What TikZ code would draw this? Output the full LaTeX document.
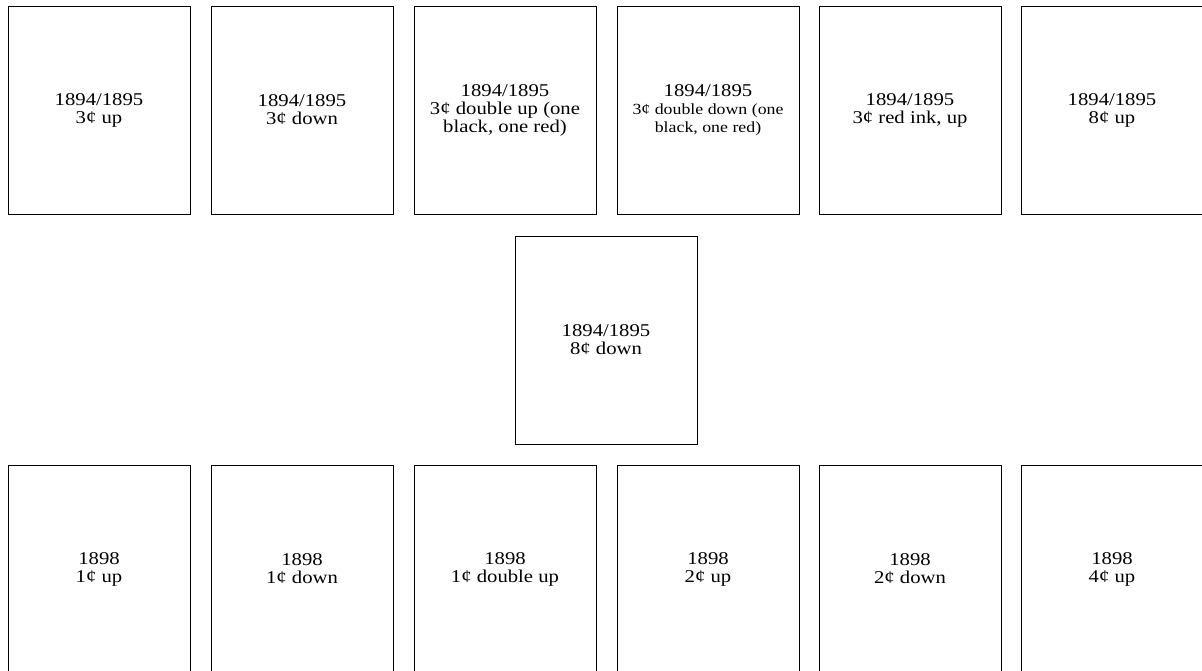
\documentclass[tikz,border=0pt]{standalone}
\usepackage{fontspec}
\setmainfont{Liberation Serif}[FakeStretch=1.15]
\usepackage{tikz}
\usetikzlibrary{positioning}

\tikzset{
  stampbox/.style={draw=black, line width=0.8pt, rectangle, inner sep=0pt,
    minimum width=182pt, minimum height=208pt, align=center,
    font=\fontsize{18}{18}\selectfont}
}
\newcommand{\smalltxt}[1]{{\fontsize{15.5}{17.5}\selectfont #1}}

\begin{document}
\begin{tikzpicture}[x=1pt, y=-1pt]
  \useasboundingbox (0,0) rectangle (1202,671);
  % 1894/1895 issue, top row
  \node[stampbox] (threeup) at (99,110) {1894/1895\\3¢ up};
  \node[stampbox] (threedown) at (302,110) {1894/1895\\3¢ down};
  \node[stampbox] (threedblup) at (505,110) {1894/1895\\3¢ double up (one\\black, one red)};
  \node[stampbox] (threedbldown) at (708,110)
    {1894/1895\\\smalltxt{3¢ double down (one}\\\smalltxt{black, one red)}};
  \node[stampbox] (threered) at (910,110) {1894/1895\\3¢ red ink, up};
  \node[stampbox] (eightup) at (1112,110) {1894/1895\\8¢ up};
  % middle
  \node[stampbox] (eightdown) at (606,340) {1894/1895\\8¢ down};
  % 1898 issue, bottom row
  \node[stampbox] (oneup) at (99,569) {1898\\1¢ up};
  \node[stampbox] (onedown) at (302,569) {1898\\1¢ down};
  \node[stampbox] (onedblup) at (505,569) {1898\\1¢ double up};
  \node[stampbox] (twoup) at (708,569) {1898\\2¢ up};
  \node[stampbox] (twodown) at (910,569) {1898\\2¢ down};
  \node[stampbox] (fourup) at (1112,569) {1898\\4¢ up};
\end{tikzpicture}
\end{document}
